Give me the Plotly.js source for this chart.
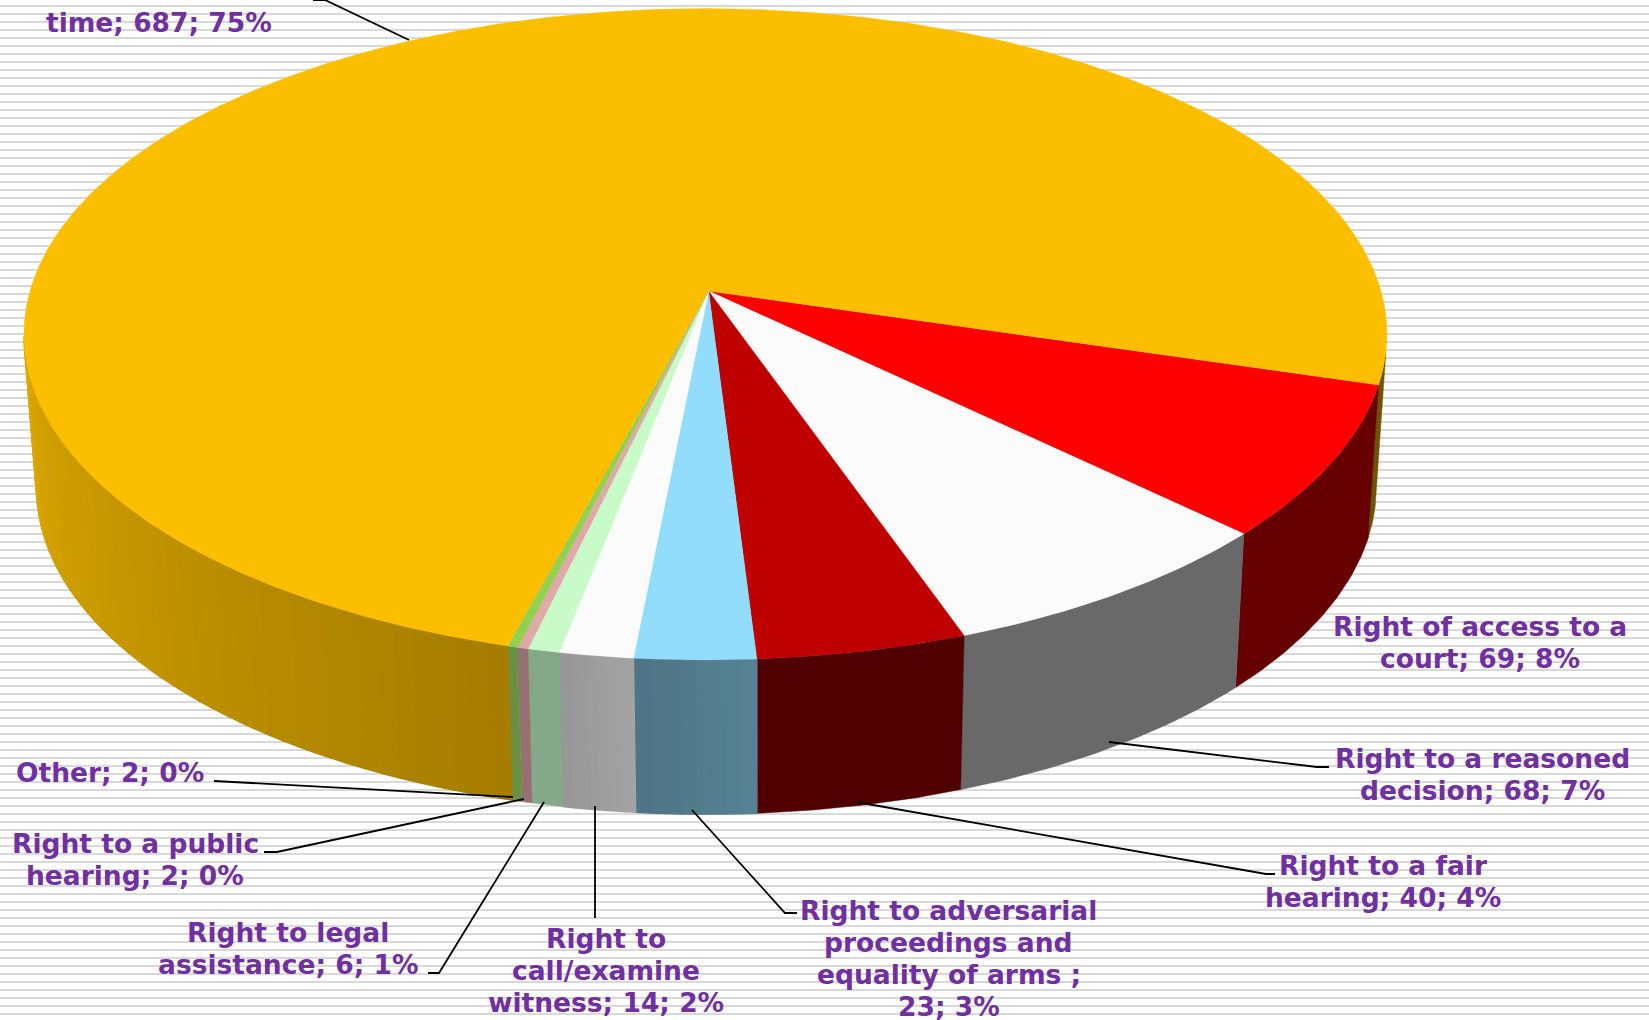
<!DOCTYPE html>
<html><head><meta charset="utf-8">
<script src="https://cdn.plot.ly/plotly-3.0.1.min.js"></script>
<style>html,body{margin:0;padding:0;background:#fff;overflow:hidden}#chart{width:1649px;height:1020px}</style>
</head><body><div id="chart"></div>
<script>
// ---- data, in pie order (clockwise from the start angle) ----
const categories = ["Right of access to a court","Right to a reasoned decision","Right to a fair hearing",
  "Right to adversarial proceedings and equality of arms ","Right to call/examine witness","Right to legal assistance",
  "Right to a public hearing","Other","Right to a trial within a reasonable time"];
const values = [69,68,40,23,14,6,2,2,687];
const percents = [8,7,4,3,2,1,0,0,75];
const labelLines = [
  ["Right of access to a","court; 69; 8%"],
  ["Right to a reasoned","decision; 68; 7%"],
  ["Right to a fair","hearing; 40; 4%"],
  ["Right to adversarial","proceedings and","equality of arms ;","23; 3%"],
  ["Right to","call/examine","witness; 14; 2%"],
  ["Right to legal","assistance; 6; 1%"],
  ["Right to a public","hearing; 2; 0%"],
  ["Other; 2; 0%"],
  ["within a reasonable","time; 687; 75%"]
];
const topColors  = ["#FF0000","#FBFBFB","#BE0000","#92DCFC","#FBFBFB","#C8FBC8","#E0A9A9","#92D050","#FCBF00"];
const wallColors = [["#660000","#660000"],["#696969","#696969"],["#500000","#500000"],["#568394","#4E7384"],
  ["#A4A4A4","#969696"],["#84A988","#84A988"],["#977074","#977074"],["#6A9143","#6A9143"],["#A67D00","#DBA800"]];
// label block centres and leader paths, page pixels
const labelCentres = [[1480,642],[1482,774],[1383,881],[949,958],[606,970],[288,948],[135,859],[110,772],[159,6]];
const leaders = [null,
  [[1109,742],[1317,767],[1329,767]],
  [[856,802],[1266,874],[1275,874]],
  [[692,810],[785,913],[797,913]],
  [[595,806],[595,918]],
  [[544,802],[439,973],[428,973]],
  [[524,799],[277,852],[264,852]],
  [[513,797],[214,781]],
  [[409,40],[325,0],[313,0]]];

// ---- projection of the pie discs (perspective) ----
const W=1649,H=1020,startDeg=-16.5;
const topDisc={x:708.6,y:291,a:675.5,b:320};
const botDisc={x:709.5,y:444,a:664,b:321};
const K=0.1328,J=0.0046;
function proj(d,deg){const t=deg*Math.PI/180,u=Math.cos(t),v=Math.sin(t),w=1+K*v+J*u;
  return [d.x+d.a*u/w,d.y-d.b*v/w];}
function hex(c){return [1,3,5].map(i=>parseInt(c.substr(i,2),16));}
function mix(a,b,t){const A=hex(a),B=hex(b);return "rgb("+A.map((x,i)=>Math.round(x+(B[i]-x)*t)).join(",")+")";}

const total=values.reduce((s,v)=>s+v,0);
const traces=[];
// background rules
const sx=[],sy=[];
for(let y=6;y<H;y+=8){sx.push(0,W,null);sy.push(y,y,null);}
traces.push({type:"scatter",mode:"lines",x:sx,y:sy,line:{color:"#D9D9D9",width:2},hoverinfo:"skip"});

function poly(xs,ys,color,lw){traces.push({type:"scatter",mode:"lines",x:xs,y:ys,fill:"toself",fillcolor:color,
  line:{color:color,width:lw},hoverinfo:"skip"});}
function wall(a0,a1,color,lw){const xs=[],ys=[],n=Math.max(2,Math.ceil(Math.abs(a1-a0)/0.5));
  for(let i=0;i<=n;i++){const p=proj(topDisc,a0+(a1-a0)*i/n);xs.push(p[0]);ys.push(p[1]);}
  for(let i=n;i>=0;i--){const p=proj(botDisc,a0+(a1-a0)*i/n);xs.push(p[0]);ys.push(p[1]);}
  xs.push(xs[0]);ys.push(ys[0]);poly(xs,ys,color,lw);}

// slice boundaries
let ang=startDeg;const slices=values.map(v=>{const a0=ang,a1=ang-v/total*360;ang=a1;return [a0,a1];});
// right side sliver of the largest slice, then side walls
wall(-11,startDeg,"#6E5400",0.5);
slices.forEach((s,i)=>{
  const last=i===values.length-1, a0=s[0], a1=last?-172:s[1];
  const strips=last?44:(wallColors[i][0]===wallColors[i][1]?1:8);
  const lw=strips>1?1.4:0.5;
  for(let k=0;k<strips;k++){
    const b0=a0+(a1-a0)*k/strips,b1=a0+(a1-a0)*(k+1)/strips;
    wall(b0,b1,mix(wallColors[i][0],wallColors[i][1],(k+.5)/strips),lw);
  }
});
// top faces
slices.forEach((s,i)=>{const xs=[topDisc.x],ys=[topDisc.y],n=Math.max(2,Math.ceil(Math.abs(s[1]-s[0])/0.5));
  for(let k=0;k<=n;k++){const p=proj(topDisc,s[0]+(s[1]-s[0])*k/n);xs.push(p[0]);ys.push(p[1]);}
  xs.push(topDisc.x);ys.push(topDisc.y);poly(xs,ys,topColors[i],0.3);});
// leaders
leaders.forEach(l=>{if(l)traces.push({type:"scatter",mode:"lines",x:l.map(p=>p[0]),y:l.map(p=>p[1]),
  line:{color:"#000000",width:1.8},hoverinfo:"skip"});});

// labels, one annotation per line so that the leading can be set
const annotations=[],lead=32;
labelLines.forEach((lines,i)=>{lines.forEach((t,j)=>{
  const py=labelCentres[i][1]+(j-(lines.length-1)/2)*lead;
  annotations.push({xref:"paper",yref:"paper",x:labelCentres[i][0]/W,y:1-py/H,xanchor:"center",yanchor:"middle",
    showarrow:false,text:t,font:{family:"DejaVu Sans",size:26.5,color:"#7030A0",weight:700}});
});});

Plotly.newPlot("chart",traces,{width:W,height:H,margin:{l:0,r:0,t:0,b:0},showlegend:false,
  paper_bgcolor:"#FFFFFF",plot_bgcolor:"#FFFFFF",annotations,
  xaxis:{range:[0,W],visible:false,fixedrange:true},
  yaxis:{range:[H,0],visible:false,fixedrange:true}},{displayModeBar:false,staticPlot:true});
</script></body></html>
